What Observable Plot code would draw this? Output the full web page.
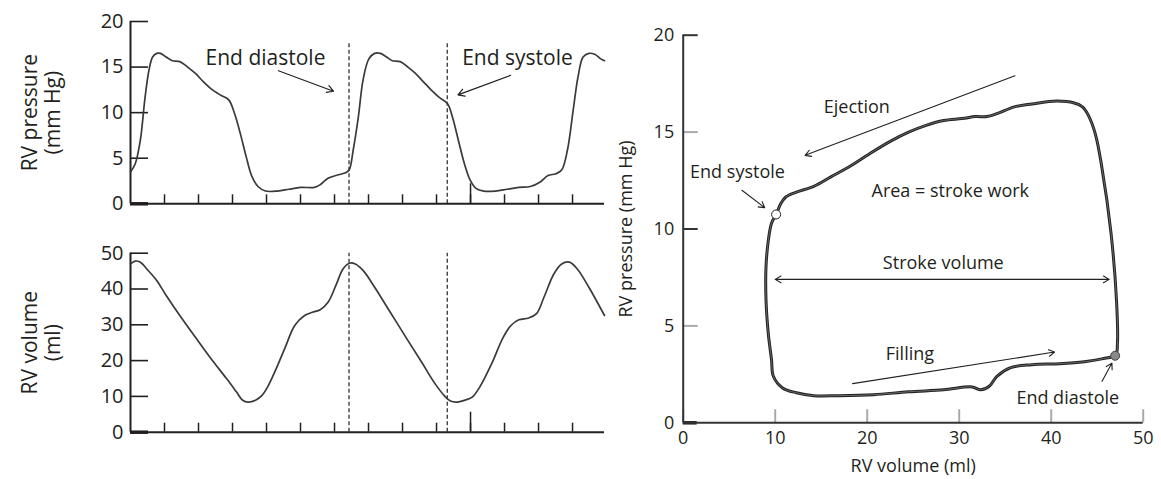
<!DOCTYPE html>
<html><head><meta charset="utf-8">
<script src="https://cdn.jsdelivr.net/npm/d3@7"></script>
<script src="https://cdn.jsdelivr.net/npm/@observablehq/plot@0.6"></script>
<style>
body{margin:0;background:#fff;}
#wrap{position:relative;width:1161px;height:479px;overflow:hidden;background:#fff;}
#wrap svg{position:absolute;overflow:visible;background:transparent;}
</style></head><body><div id="wrap"></div>
<script>
// ---------- data ----------
// RV pressure trace (time in s, pressure in mm Hg)
const pressureTime = [0.000,0.014,0.029,0.042,0.054,0.065,0.077,0.088,0.105,0.123,0.145,0.168,0.191,0.214,0.237,0.266,0.289,0.306,0.323,0.340,0.357,0.375,0.397,0.432,0.466,0.500,0.541,0.558,0.581,0.604,0.632,0.643,0.655,0.670,0.684,0.701,0.718,0.735,0.753,0.770,0.793,0.816,0.838,0.861,0.884,0.907,0.932,0.947,0.964,0.982,0.999,1.016,1.039,1.073,1.108,1.142,1.176,1.205,1.228,1.251,1.268,1.285,1.302,1.316,1.331,1.348,1.365,1.383,1.394];
const pressureValue = [3.5,4.4,7.0,11.4,14.6,16.1,16.5,16.5,16.1,15.7,15.6,15.0,14.3,13.4,12.6,11.9,11.4,9.9,7.7,5.2,3.0,1.9,1.4,1.4,1.6,1.8,1.8,2.1,2.8,3.1,3.4,3.7,5.9,9.5,13.6,15.9,16.5,16.5,16.1,15.7,15.6,15.0,14.3,13.4,12.5,11.7,11.0,9.5,7.0,4.4,2.6,1.7,1.4,1.4,1.6,1.8,1.9,2.4,3.1,3.3,3.7,5.9,10.3,13.9,16.1,16.5,16.4,15.9,15.7];
// RV volume trace (time in s, volume in ml)
const volumeTime = [0.000,0.014,0.029,0.048,0.077,0.105,0.145,0.191,0.237,0.283,0.312,0.329,0.346,0.369,0.386,0.403,0.426,0.455,0.483,0.512,0.535,0.558,0.581,0.604,0.625,0.644,0.661,0.684,0.718,0.764,0.810,0.856,0.896,0.924,0.941,0.958,0.982,1.005,1.027,1.062,1.096,1.119,1.142,1.171,1.194,1.216,1.245,1.268,1.291,1.314,1.348,1.394];
const volumeValue = [47.0,47.8,47.5,45.6,42.4,38.2,32.6,26.5,20.5,14.9,11.2,9.0,8.4,9.0,10.2,12.6,17.2,23.7,29.8,32.6,33.5,34.2,36.3,41.0,45.6,47.2,47.0,45.2,40.5,33.5,26.5,19.6,13.5,10.1,8.7,8.4,8.9,9.8,12.6,19.1,26.5,29.8,31.4,31.9,33.1,37.7,44.2,47.0,47.5,45.6,40.5,32.6];
// Pressure-volume loop (ml, mm Hg), starting at end diastole
const loopVolume = [47.0,47.2,47.1,46.5,45.5,44.8,44.0,43.4,42.5,40.6,37.9,36.0,34.1,33.0,31.8,30.3,28.3,26.4,24.5,22.6,20.3,18.0,16.1,14.2,12.3,11.15,10.6,10.1,9.6,9.25,9.0,9.0,9.25,9.6,9.8,10.8,12.3,14.2,16.9,20.7,24.5,28.3,31.4,32.35,33.3,34.1,35.6,37.9,40.9,43.6,45.5];
const loopPressure = [3.5,4.1,6.3,9.8,13.2,14.9,15.9,16.3,16.5,16.6,16.45,16.3,15.95,15.8,15.8,15.7,15.6,15.35,15.0,14.55,13.9,13.2,12.7,12.2,11.9,11.65,11.3,10.75,10.3,9.4,8.05,6.35,4.6,3.25,2.4,1.8,1.55,1.4,1.4,1.45,1.6,1.7,1.85,1.7,1.9,2.4,2.85,3.0,3.05,3.15,3.3];
// event markers
const eventTimes = [0.6426, 0.9315];
const endSystolePoint = [{v: 10.1, p: 10.75}];
const endDiastolePoint = [{v: 46.95, p: 3.46}];
// ticks
const timeTicks = [0.1,0.2,0.3,0.4,0.5,0.6,0.7,0.8,0.9,1.0,1.1,1.2,1.3];
const longTimeTick = [1.0];
const pressureTicks = [0,5,10,15,20];
const volumeTicks = [0,10,20,30,40,50];
// labels & annotations (positions in data units)
const leftAnnotations = [
  {label: "End diastole", t: 0.397, p: 15.2},
  {label: "End systole", t: 1.138, p: 15.2}
];
const leftArrows = [
  {t1: 0.435, p1: 14.6, t2: 0.597, p2: 12.35},
  {t1: 1.118, p1: 14.1, t2: 0.963, p2: 11.95}
];
const loopAnnotations = [
  {label: "Ejection", v: 18.87, p: 15.97},
  {label: "End systole", v: 5.9, p: 12.63},
  {label: "Area = stroke work", v: 29.03, p: 11.65},
  {label: "Stroke volume", v: 28.27, p: 7.92},
  {label: "Filling", v: 24.64, p: 3.26},
  {label: "End diastole", v: 41.8, p: 0.99}
];
const loopArrows = [
  {v1: 36.06, p1: 17.91, v2: 13.25, p2: 13.8},
  {v1: 6.38, p1: 12.0, v2: 8.86, p2: 11.1},
  {v1: 28.15, p1: 7.4, v2: 10.0, p2: 7.4},
  {v1: 28.15, p1: 7.4, v2: 46.3, p2: 7.4},
  {v1: 18.41, p1: 2.02, v2: 40.37, p2: 3.65},
  {v1: 45.53, p1: 2.14, v2: 46.6, p2: 3.08}
];

// ---------- drawing ----------
const FONT = "'Open Sans', Lato, sans-serif";
const INK = "#231f20";
const wrap = document.getElementById("wrap");
const zip = (xs, ys) => xs.map((x, i) => ({x, y: ys[i]}));

function leftPanel({series, yMax, yTicks, dashTop, labels, top, extra}) {
  const svg = Plot.plot({
    width: 620, height: 215,
    marginLeft: 130, marginRight: 16,
    marginTop: top.mt, marginBottom: top.mb,
    x: {domain: [0, 1.394]},
    y: {domain: [0, yMax]},
    style: {fontFamily: FONT, color: INK, background: "transparent", overflow: "visible"},
    marks: [
      Plot.axisY(yTicks.filter(d => d > 0), {tickSize: -18, tickPadding: 25, fontSize: 20, strokeWidth: 1.6, label: null}),
      Plot.axisY([0], {tickSize: -18, tickPadding: 25, fontSize: 20, strokeWidth: 3.5, label: null}),
      Plot.axisX(timeTicks, {tickSize: -9, tickFormat: () => "", strokeWidth: 1.5, label: null}),
      Plot.axisX(longTimeTick, {tickSize: -20, tickFormat: () => "", strokeWidth: 1.5, label: null}),
      Plot.ruleX([0], {stroke: INK, strokeWidth: 2}),
      Plot.ruleY([0], {stroke: INK, strokeWidth: 2}),
      Plot.ruleX(eventTimes, {y1: 0, y2: dashTop, stroke: INK, strokeWidth: 1.2, strokeDasharray: "4,2.5"}),
      Plot.line(series, {x: "x", y: "y", curve: "catmull-rom", stroke: "#3a3a3a", strokeWidth: 1.7}),
      Plot.text([labels[0]], {frameAnchor: "left", text: d => d, textAnchor: "middle", rotate: -90, dx: -100, fontSize: 21, fill: INK}),
      Plot.text([labels[1]], {frameAnchor: "left", text: d => d, textAnchor: "middle", rotate: -90, dx: -77, fontSize: 21, fill: INK}),
      ...extra
    ]
  });
  svg.style.left = "0px";
  svg.style.top = top.top + "px";
  wrap.appendChild(svg);
}

leftPanel({
  series: zip(pressureTime, pressureValue), yMax: 20, yTicks: pressureTicks, dashTop: 17.6,
  labels: ["RV pressure", "(mm Hg)"], top: {top: 0, mt: 21, mb: 11.7},
  extra: [
    Plot.text(leftAnnotations, {x: "t", y: "p", text: "label", lineAnchor: "bottom", fontSize: 21, fill: INK}),
    Plot.arrow(leftArrows, {x1: "t1", y1: "p1", x2: "t2", y2: "p2", stroke: INK, strokeWidth: 1.2, headLength: 9})
  ]
});
leftPanel({
  series: zip(volumeTime, volumeValue), yMax: 50, yTicks: volumeTicks, dashTop: 50,
  labels: ["RV volume", "(ml)"], top: {top: 232, mt: 20.7, mb: 15.3},
  extra: []
});

// right: pressure-volume loop
const right = Plot.plot({
  width: 561, height: 479,
  marginLeft: 82.7, marginRight: 18.3, marginTop: 34.7, marginBottom: 56.7,
  x: {domain: [0, 50]},
  y: {domain: [0, 20]},
  style: {fontFamily: FONT, color: INK, background: "transparent", overflow: "visible"},
  marks: [
    Plot.axisY([20, 10], {tickSize: -15, tickPadding: 24, fontSize: 18, stroke: "#333", strokeWidth: 2, label: null}),
    Plot.axisY([15, 5], {tickSize: -15, tickPadding: 24, fontSize: 18, stroke: "#aaa", strokeWidth: 2, label: null}),
    Plot.axisY([0], {tickSize: -14, tickPadding: 23, fontSize: 18, stroke: INK, strokeWidth: 3.5, label: null}),
    Plot.axisX(volumeTicks, {tickSize: -13, tickPadding: 21, fontSize: 18, stroke: "#aaa", strokeWidth: 2, label: null}),
    Plot.ruleX([0], {stroke: "#333", strokeWidth: 2}),
    Plot.ruleY([0], {stroke: "#333", strokeWidth: 2}),
    Plot.line(zip(loopVolume, loopPressure), {x: "x", y: "y", curve: "catmull-rom-closed", stroke: "#222", strokeWidth: 3}),
    Plot.line(zip(loopVolume, loopPressure), {x: "x", y: "y", curve: "catmull-rom-closed", stroke: "#777", strokeWidth: 0.8}),
    Plot.arrow(loopArrows, {x1: "v1", y1: "p1", x2: "v2", y2: "p2", stroke: INK, strokeWidth: 1.1, headLength: 9}),
    Plot.dot(endSystolePoint, {x: "v", y: "p", r: 4.5, fill: "white", stroke: "#222", strokeWidth: 1}),
    Plot.dot(endDiastolePoint, {x: "v", y: "p", r: 4.5, fill: "#888", stroke: "#444", strokeWidth: 1}),
    Plot.text(loopAnnotations, {x: "v", y: "p", text: "label", lineAnchor: "bottom", fontSize: 18, fill: INK}),
    Plot.text(["RV pressure (mm Hg)"], {frameAnchor: "left", text: d => d, textAnchor: "middle", rotate: -90, dx: -57, fontSize: 18, fill: INK}),
    Plot.text(["RV volume (ml)"], {frameAnchor: "bottom", text: d => d, lineAnchor: "bottom", dy: 48.7, fontSize: 18, fill: INK})
  ]
});
right.style.left = "600px";
right.style.top = "0px";
wrap.appendChild(right);
</script>
</body></html>
